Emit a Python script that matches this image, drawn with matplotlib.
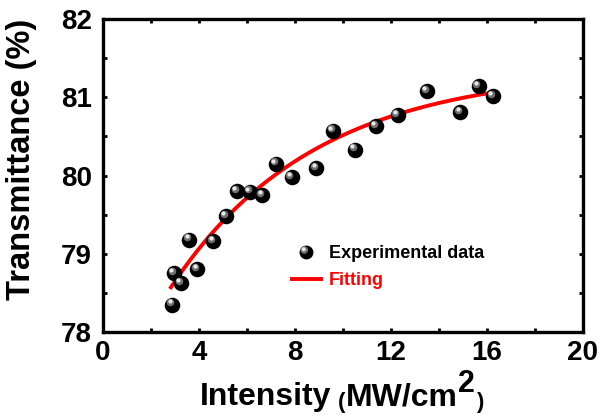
import numpy as np
import matplotlib
matplotlib.use("Agg")
import matplotlib.pyplot as plt
from matplotlib.transforms import offset_copy
from matplotlib.lines import Line2D
from matplotlib.path import Path

plt.rcParams['font.family'] = ['Liberation Sans', 'DejaVu Sans']
plt.rcParams['font.weight'] = 'bold'

# Measured transmittance vs. incident intensity
intensity = [2.89, 2.96, 3.24, 3.60, 3.93, 4.60, 5.13, 5.58, 6.13, 6.64,
             7.20, 7.86, 8.89, 9.58, 10.51, 11.38, 12.28, 13.51, 14.89,
             15.65, 16.24]
transmittance = [78.35, 78.75, 78.62, 79.18, 78.80, 79.16, 79.48, 79.80,
                 79.79, 79.75, 80.15, 79.98, 80.09, 80.57, 80.33, 80.63,
                 80.77, 81.08, 80.81, 81.14, 81.01]

# Saturable-absorption fit: T = A - B * exp(-I / C)
fit_A, fit_B, fit_C = 81.36, 4.47, 6.0
fit_range = (2.83, 16.24)

x_ticks = [0, 4, 8, 12, 16, 20]
y_ticks = [78, 79, 80, 81, 82]

fig = plt.figure(figsize=(6.04, 4.16), dpi=100)
ax = fig.add_axes([0.1705, 0.2019, 0.7947, 0.7524])

xf = np.linspace(fit_range[0], fit_range[1], 200)
yf = fit_A - fit_B * np.exp(-xf / fit_C)
ax.plot(xf, yf, color='#ff0000', lw=2.8, zorder=2)

# glossy black spheres: dark body with a soft highlight toward the upper left
ax.scatter(intensity, transmittance, s=125, color='black', zorder=3, linewidths=0)
t1 = offset_copy(ax.transData, fig=fig, x=-1.6, y=1.8, units='points')
ax.scatter(intensity, transmittance, s=30, color='#6e6e6e', zorder=4,
           linewidths=0, transform=t1)
t2 = offset_copy(ax.transData, fig=fig, x=-2.0, y=2.3, units='points')
ax.scatter(intensity, transmittance, s=9, color='#e8e8e8', zorder=5,
           linewidths=0, transform=t2)

ax.set_xlim(0, 20)
ax.set_ylim(78, 82)
ax.set_xticks(x_ticks)
ax.set_yticks(y_ticks)
ax.set_xticks(np.arange(0, 21, 2), minor=True)
ax.set_yticks(np.arange(78, 82.01, 0.5), minor=True)
ax.tick_params(which='both', direction='in', length=3, width=2,
               top=True, right=True, labelsize=20)
ax.tick_params(axis='x', which='major', pad=6)
ax.tick_params(axis='y', which='major', pad=8)
for lab in ax.get_xticklabels() + ax.get_yticklabels():
    lab.set_fontweight('bold')
for sp in ax.spines.values():
    sp.set_linewidth(2.4)

ax.set_ylabel('Transmittance (%)', fontsize=23.5, fontweight='bold')
ax.yaxis.set_label_coords(-0.1375, 0.553)

# x-axis title assembled from pieces: smaller parentheses, raised exponent
first = fig.text(0, 11, 'Intensity', transform=None, fontsize=23,
                 fontweight='bold', va='baseline', ha='left')
par_l = ax.annotate('(', xy=(1, 0), xycoords=first, fontsize=16,
                    fontweight='bold', va='bottom', ha='left',
                    xytext=(5, -1), textcoords='offset points')
mw = ax.annotate('MW/cm', xy=(1, 0), xycoords=first, fontsize=23,
                 fontweight='bold', va='bottom', ha='left',
                 xytext=(10.5, 0), textcoords='offset points')
sup = ax.annotate('2', xy=(1, 0), xycoords=mw, fontsize=22,
                  fontweight='bold', va='bottom', ha='left',
                  xytext=(0.5, 9), textcoords='offset points')
par_r = ax.annotate(')', xy=(1, 0), xycoords=sup, fontsize=16,
                    fontweight='bold', va='bottom', ha='left',
                    xytext=(0.5, -10), textcoords='offset points')
texts = [first, par_l, mw, sup, par_r]

fig.canvas.draw()
r = fig.canvas.get_renderer()
x0 = min(t.get_window_extent(r).x0 for t in texts)
x1 = max(t.get_window_extent(r).x1 for t in texts)
ax_bb = ax.get_window_extent(r)
centre = 0.5 * (ax_bb.x0 + ax_bb.x1) - 1.5
first.set_position((centre - 0.5 * (x1 - x0), 11))


def highlight_marker(cx, cy, radius):
    """Off-centre disc marker; the lone MOVETO at (1, 1) fixes the scale."""
    disc = Path.circle(center=(cx, cy), radius=radius)
    verts = np.vstack([[1.0, 1.0], disc.vertices])
    codes = np.concatenate([[Path.MOVETO], disc.codes])
    return Path(verts, codes)


sphere_key = (
    Line2D([], [], marker='o', ls='none', color='black', markersize=10,
           markeredgewidth=0),
    Line2D([], [], marker=highlight_marker(-0.32, 0.36, 0.55), ls='none',
           color='#6e6e6e', markersize=10, markeredgewidth=0),
    Line2D([], [], marker=highlight_marker(-0.40, 0.46, 0.30), ls='none',
           color='#e8e8e8', markersize=10, markeredgewidth=0),
)
handles = [sphere_key, Line2D([], [], color='#ff0000', lw=2.8)]
leg = ax.legend(handles, ['Experimental data', 'Fitting'], loc='lower left',
                bbox_to_anchor=(0.36, 0.085), frameon=False,
                handlelength=1.6, handletextpad=0.45, labelspacing=0.55,
                prop={'weight': 'bold', 'size': 13})
leg.get_texts()[1].set_color('#ff0000')

fig.savefig('out.png', dpi=100)
